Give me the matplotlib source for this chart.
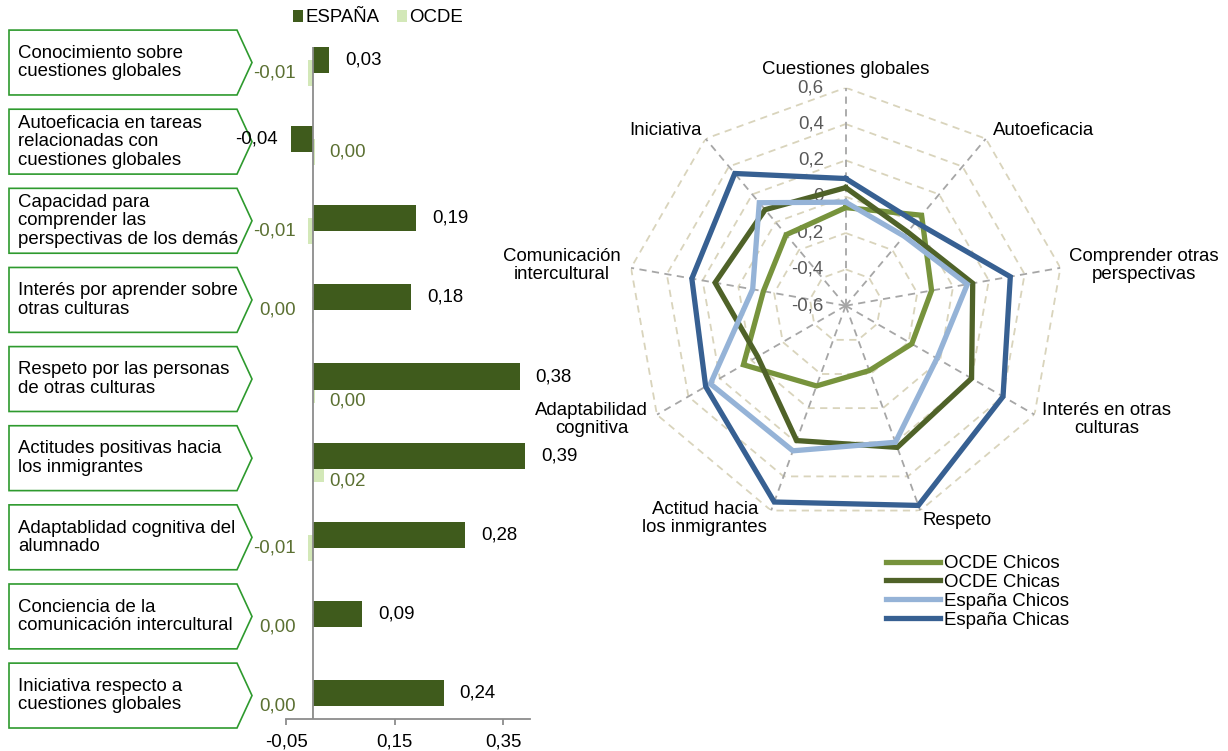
import numpy as np
import matplotlib
matplotlib.use('Agg')
import matplotlib.pyplot as plt
import matplotlib.transforms as mtransforms
from matplotlib.patches import Patch, Polygon

FS = 13.4
plt.rcParams['font.family'] = ['Liberation Sans', 'DejaVu Sans']
plt.rcParams['font.size'] = FS

# ---- bar chart data (España vs OCDE differences)
indicadores = [
    'Conocimiento sobre\ncuestiones globales',
    'Autoeficacia en tareas\nrelacionadas con\ncuestiones globales',
    'Capacidad para\ncomprender las\nperspectivas de los demás',
    'Interés por aprender sobre\notras culturas',
    'Respeto por las personas\nde otras culturas',
    'Actitudes positivas hacia\nlos inmigrantes',
    'Adaptablidad cognitiva del\nalumnado',
    'Conciencia de la\ncomunicación intercultural',
    'Iniciativa respecto a\ncuestiones globales',
]
espana = [0.03, -0.04, 0.19, 0.18, 0.38, 0.39, 0.28, 0.09, 0.24]
ocde = [-0.01, 0.003, -0.01, -0.003, 0.003, 0.02, -0.01, -0.003, -0.003]
x_ticks = [-0.05, 0.15, 0.35]

# ---- radar data
dimensiones = ['Cuestiones globales', 'Autoeficacia', 'Comprender otras\nperspectivas',
               'Interés en otras\nculturas', 'Respeto', 'Actitud hacia\nlos inmigrantes',
               'Adaptabilidad\ncognitiva', 'Comunicación\nintercultural', 'Iniciativa']
ocde_chicos = [-0.06, 0.05, -0.12, -0.18, -0.22, -0.13, 0.05, -0.14, -0.09]
ocde_chicas = [0.05, -0.07, 0.11, 0.20, 0.23, 0.19, -0.04, 0.13, 0.09]
espana_chicos = [-0.03, -0.10, 0.08, -0.02, 0.20, 0.25, 0.26, -0.08, 0.14]
espana_chicas = [0.10, 0.00, 0.32, 0.40, 0.57, 0.55, 0.29, 0.26, 0.35]
r_ticks = [-0.6, -0.4, -0.2, 0.0, 0.2, 0.4, 0.6]

C_ESP = '#3f5b1c'
C_OCDE = '#d3e8b8'
C_OCDE_TXT = '#5b7032'
C_BOX = '#2e9a2e'
C_AXIS = '#8c8c8c'


def fmt(v):
    s = f'{abs(v):.2f}'.replace('.', ',')
    return '-' + s if round(v, 2) < 0 else s


W, H = 1228, 751
fig = plt.figure(figsize=(W / 100, H / 100), dpi=100)

# ---------------- bar chart ----------------
ax = fig.add_axes([286 / W, 1 - 719.3 / H, (530.4 - 286) / W, (719.3 - 46.7) / H])
y = np.arange(len(indicadores))
h, off = 0.33, 0.082
ax.barh(y + off, ocde, height=h, color=C_OCDE, zorder=2)
ax.barh(y - off, espana, height=h, color=C_ESP, zorder=3)
ax.set_xlim(-0.05, 0.40)
ax.set_ylim(len(indicadores) - 1 + 0.25, -0.25)
ax.axvline(0, color=C_AXIS, lw=1.3, zorder=4)
for s in ['top', 'right', 'left']:
    ax.spines[s].set_visible(False)
ax.spines['bottom'].set_color(C_AXIS)
ax.spines['bottom'].set_linewidth(1.3)
ax.set_yticks([])
ax.set_xticks(x_ticks, [f'{t:.2f}'.replace('.', ',') for t in x_ticks])
ax.tick_params(axis='x', direction='out', length=4, color=C_AXIS, width=1.3,
               labelsize=FS, pad=6)

for i, v in enumerate(espana):
    dx = 16 if v >= 0 else -14
    ax.annotate(fmt(v), (v, i - off), xytext=(dx, 0), textcoords='offset pixels',
                ha='left' if v >= 0 else 'right', va='center', fontsize=FS)
for i, v in enumerate(ocde):
    if v < 0:
        ax.annotate(fmt(v), (0, i + off), xytext=(-17, 0), textcoords='offset pixels',
                    ha='right', va='center', fontsize=FS, color=C_OCDE_TXT)
    else:
        dy = -12 if espana[i] > 0 else 0
        ax.annotate(fmt(v), (0, i + off), xytext=(16, dy), textcoords='offset pixels',
                    ha='left', va='center', fontsize=FS, color=C_OCDE_TXT)

# callout boxes on the left
tr = mtransforms.blended_transform_factory(fig.transFigure, ax.transData)
bh = 0.41
for i, lab in enumerate(indicadores):
    c = i - 0.05
    verts = [(9 / W, c - bh), (237 / W, c - bh), (252 / W, c), (237 / W, c + bh), (9 / W, c + bh)]
    ax.add_patch(Polygon(verts, closed=True, fc='white', ec=C_BOX, lw=1.2,
                         transform=tr, clip_on=False))
    ax.text(18 / W, c, lab, transform=tr, ha='left', va='center', fontsize=FS,
            linespacing=1.12, clip_on=False)

fig.legend(handles=[Patch(fc=C_ESP), Patch(fc=C_OCDE)], labels=['ESPAÑA', 'OCDE'],
           ncol=2, loc='center', bbox_to_anchor=(378 / W, 1 - 18 / H), frameon=False,
           fontsize=FS, handlelength=0.55, handleheight=0.55, handletextpad=0.15,
           columnspacing=0.9, borderpad=0)

# ---------------- radar chart ----------------
cx, cy, R = 845.7, 305.7, 218
rax = fig.add_axes([(cx - R) / W, 1 - (cy + R) / H, 2 * R / W, 2 * R / H], projection='polar')
rax.set_theta_zero_location('N')
rax.set_theta_direction(-1)
rax.set_ylim(-0.6, 0.6)
rax.axis('off')

n = len(dimensiones)
ang = np.arange(n) * 2 * np.pi / n
ang_c = np.r_[ang, ang[0]]

for lv in r_ticks[1:]:
    rax.plot(ang_c, [lv] * (n + 1), color='#d9d4bc', lw=1.3, ls=(0, (4, 3)), zorder=1)
for a in ang:
    rax.plot([a, a], [-0.6, 0.6], color='#a6a6a6', lw=1.3, ls=(0, (4, 3)), zorder=1)

series = [
    ('OCDE Chicos', ocde_chicos, '#77933c'),
    ('OCDE Chicas', ocde_chicas, '#4f6228'),
    ('España Chicos', espana_chicos, '#95b3d7'),
    ('España Chicas', espana_chicas, '#376092'),
]
handles = []
for name, vals, col in series:
    ln, = rax.plot(ang_c, list(vals) + [vals[0]], color=col, lw=3.8, label=name,
                   solid_joinstyle='miter', zorder=3)
    handles.append(ln)

for lv in r_ticks:
    lbl = '0' if lv == 0 else f'{lv:.1f}'.replace('.', ',')
    rax.annotate(lbl, (0, lv), xytext=(-22, 0), textcoords='offset pixels',
                 ha='right', va='center', fontsize=FS, color='#595959', zorder=2)

lab_pos = [  # (dx, dy, ha, va)
    (0, 10, 'center', 'bottom'),
    (7, 8, 'left', 'center'),
    (9, 2, 'left', 'center'),
    (8, -5, 'left', 'center'),
    (2, -10, 'left', 'center'),
    (-4, -8, 'right', 'center'),
    (-9, -5, 'right', 'center'),
    (-10, 2, 'right', 'center'),
    (-4, 8, 'right', 'center'),
]
for a, lab, (dx, dy, ha, va) in zip(ang, dimensiones, lab_pos):
    rax.annotate(lab, (a, 0.6), xytext=(dx, dy), textcoords='offset pixels',
                 ha=ha, va=va, multialignment='center', fontsize=FS, linespacing=1.1,
                 annotation_clip=False)

fig.legend(handles=handles, loc='upper left', bbox_to_anchor=(886 / W, 1 - 555 / H),
           frameon=False, fontsize=FS, handlelength=2.9, handletextpad=0.2,
           labelspacing=0.1, borderpad=0, borderaxespad=0)

fig.savefig('out.png', dpi=100)
